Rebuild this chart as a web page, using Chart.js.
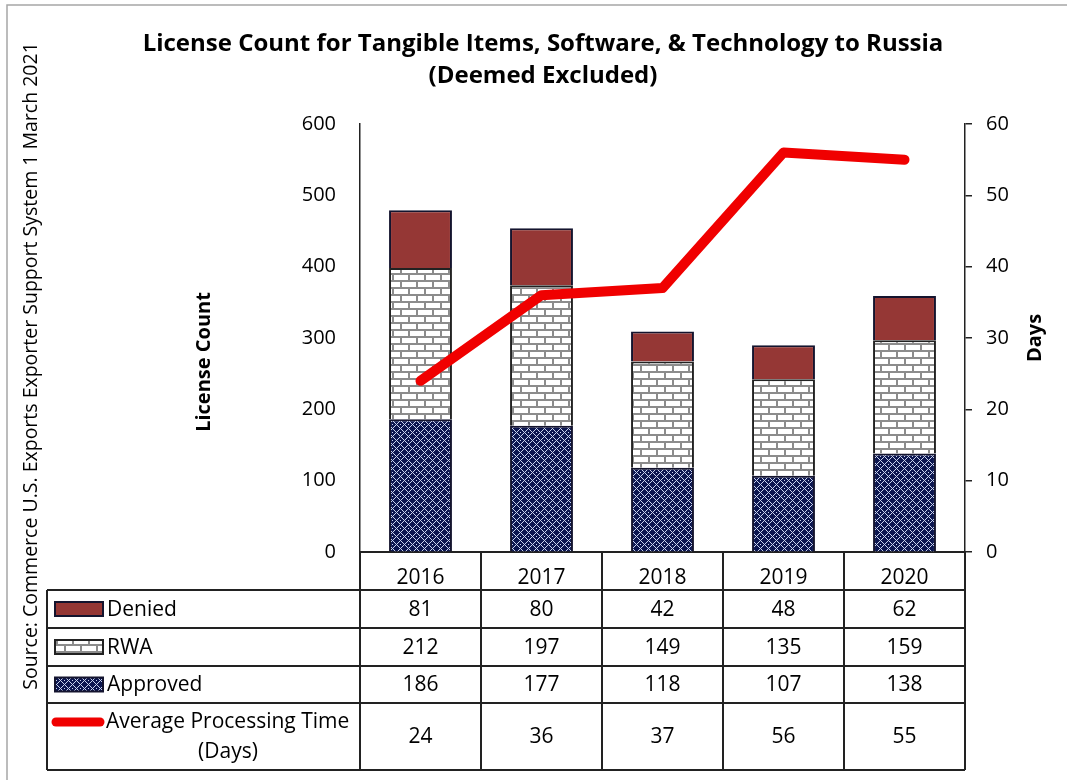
<!DOCTYPE html>
<html>
<head>
<meta charset="utf-8">
<script src="https://cdn.jsdelivr.net/npm/chart.js@4.4.1/dist/chart.umd.min.js"></script>
<style>
  body { margin: 0; background: #fff; }
  canvas { display: block; }
</style>
</head>
<body>
<canvas id="chart" width="1067" height="780"></canvas>
<script>
const years = ["2016", "2017", "2018", "2019", "2020"];
const denied = [81, 80, 42, 48, 62];
const rwa = [212, 197, 149, 135, 159];
const approved = [186, 177, 118, 107, 138];
const avgDays = [24, 36, 37, 56, 55];

const titleLines = ["License Count for Tangible Items, Software, & Technology to Russia", "(Deemed Excluded)"];
const sourceText = "Source: Commerce U.S. Exports Exporter Support System 1 March 2021";
const FONT = '"Open Sans", "Liberation Sans", sans-serif';

const canvas = document.getElementById("chart");
const ctx = canvas.getContext("2d");

function brickPattern() {
  const c = document.createElement("canvas");
  c.width = 16; c.height = 14;
  const g = c.getContext("2d");
  g.fillStyle = "#fff";
  g.fillRect(0, 0, 16, 14);
  g.fillStyle = "#8c8c8c";
  g.fillRect(0, 0, 16, 2);
  g.fillRect(0, 7, 16, 2);
  g.fillRect(0, 0, 2, 7);
  g.fillRect(8, 7, 2, 7);
  return ctx.createPattern(c, "repeat");
}

function diamondPattern() {
  const c = document.createElement("canvas");
  c.width = 8; c.height = 8;
  const g = c.getContext("2d");
  g.fillStyle = "#0c1650";
  g.fillRect(0, 0, 8, 8);
  g.fillStyle = "#c8d2ee";
  for (let x = 0; x < 8; x++) {
    for (let y = 0; y < 8; y++) {
      if ((x + y) % 8 === 4 || (x - y + 8) % 8 === 4 || (x === 0 && y === 0)) g.fillRect(x, y, 1, 1);
    }
  }
  return ctx.createPattern(c, "repeat");
}

const deniedFill = "#953735";
const rwaFill = brickPattern();
const approvedFill = diamondPattern();
const edge = "#14142e";
const lineColor = "#f00000";

// table, legend keys, title and side texts
const tablePlugin = {
  id: "tableAndText",
  afterDraw(chart) {
    const c = chart.ctx;
    const xs = chart.scales.x;
    const area = chart.chartArea;
    const half = (xs.getPixelForValue(1) - xs.getPixelForValue(0)) / 2;
    const rows = [590, 628, 666, 703, 770];
    const leftX = 47;
    c.save();

    c.strokeStyle = "#222";
    c.lineWidth = 2;
    c.beginPath();
    rows.forEach((y) => { c.moveTo(leftX, y); c.lineTo(area.right, y); });
    c.moveTo(leftX, rows[0]); c.lineTo(leftX, rows[4]);
    for (let i = 0; i <= years.length; i++) {
      const x = xs.getPixelForValue(0) - half + i * 2 * half;
      c.moveTo(x, area.bottom); c.lineTo(x, rows[4]);
    }
    c.stroke();

    // values
    c.fillStyle = "#000";
    c.font = "21px " + FONT;
    c.textAlign = "center";
    c.textBaseline = "middle";
    const series = [denied, rwa, approved, avgDays];
    series.forEach((arr, r) => {
      const cy = (rows[r] + rows[r + 1]) / 2 + 1;
      arr.forEach((v, i) => c.fillText(String(v), xs.getPixelForValue(i), cy));
    });

    // legend keys
    const keys = [deniedFill, rwaFill, approvedFill];
    ["Denied", "RWA", "Approved"].forEach((name, r) => {
      const cy = (rows[r] + rows[r + 1]) / 2;
      c.fillStyle = keys[r];
      c.fillRect(55, cy - 7, 48, 14);
      c.lineWidth = 2;
      c.strokeStyle = r === 1 ? "#222" : edge;
      c.strokeRect(55, cy - 7, 48, 14);
      c.fillStyle = "#000";
      c.textAlign = "left";
      c.fillText(name, 107, cy + 1);
    });
    c.strokeStyle = lineColor;
    c.lineWidth = 9;
    c.lineCap = "round";
    c.beginPath();
    c.moveTo(56, 722); c.lineTo(100, 722);
    c.stroke();
    c.fillStyle = "#000";
    c.textAlign = "left";
    c.fillText("Average Processing Time", 106, 722);
    c.textAlign = "center";
    c.fillText("(Days)", 228, 752);

    // title
    c.font = "bold 24px " + FONT;
    c.fillText(titleLines[0], 543, 44);
    c.fillText(titleLines[1], 543, 76);

    // axis titles
    c.font = "bold 20px " + FONT;
    c.save();
    c.translate(204, 362);
    c.rotate(-Math.PI / 2);
    c.fillText("License Count", 0, 0);
    c.restore();
    c.save();
    c.translate(1035, 338);
    c.rotate(-Math.PI / 2);
    c.fillText("Days", 0, 0);
    c.restore();

    // source note
    c.font = "19.5px " + FONT;
    c.save();
    c.translate(31, 366);
    c.rotate(-Math.PI / 2);
    c.fillText(sourceText, 0, 0);
    c.restore();

    // frame edge
    c.strokeStyle = "#a6a6a6";
    c.lineWidth = 1.5;
    c.beginPath();
    c.moveTo(7, 780); c.lineTo(7, 5); c.lineTo(1067, 5);
    c.stroke();
    c.restore();
  }
};

new Chart(canvas, {
  data: {
    labels: years,
    datasets: [
      {
        type: "line",
        label: "Average Processing Time (Days)",
        data: avgDays,
        yAxisID: "y1",
        borderColor: lineColor,
        borderWidth: 10,
        borderCapStyle: "round",
        borderJoinStyle: "round",
        pointRadius: 0,
        tension: 0,
        order: 0,
      },
      {
        type: "bar",
        label: "Approved",
        data: approved,
        yAxisID: "y",
        backgroundColor: approvedFill,
        borderColor: edge,
        borderWidth: 2,
        order: 1,
      },
      {
        type: "bar",
        label: "RWA",
        data: rwa,
        yAxisID: "y",
        backgroundColor: rwaFill,
        borderColor: "#222",
        borderWidth: 2,
        order: 1,
      },
      {
        type: "bar",
        label: "Denied",
        data: denied,
        yAxisID: "y",
        backgroundColor: deniedFill,
        borderColor: edge,
        borderWidth: 2,
        order: 1,
      },
    ],
  },
  options: {
    responsive: false,
    animation: false,
    layout: { padding: { top: 124, left: 0, right: 0, bottom: 0 } },
    datasets: { bar: { barPercentage: 0.52, categoryPercentage: 1 } },
    plugins: { legend: { display: false }, tooltip: { enabled: false } },
    scales: {
      x: {
        stacked: true,
        grid: { display: false },
        border: { display: true, color: "#222", width: 2 },
        ticks: { color: "#000", font: { family: FONT, size: 21 }, padding: 5 },
        afterFit: (s) => { s.height = 228; },
      },
      y: {
        stacked: true,
        position: "left",
        min: 0,
        max: 600,
        ticks: { stepSize: 100, color: "#000", font: { family: FONT, size: 20 }, padding: 24 },
        grid: { drawOnChartArea: false, drawTicks: false },
        border: { display: true, color: "#222", width: 1.5 },
        afterFit: (s) => { s.width = 360; },
      },
      y1: {
        position: "right",
        min: 0,
        max: 60,
        ticks: { stepSize: 10, color: "#000", font: { family: FONT, size: 20 }, padding: 14 },
        grid: { drawOnChartArea: false, drawTicks: true, tickLength: 7, color: "#222", lineWidth: 1.5 },
        border: { display: true, color: "#222", width: 1.5 },
        afterFit: (s) => { s.width = 102; },
      },
    },
  },
  plugins: [tablePlugin],
});
</script>
</body>
</html>
